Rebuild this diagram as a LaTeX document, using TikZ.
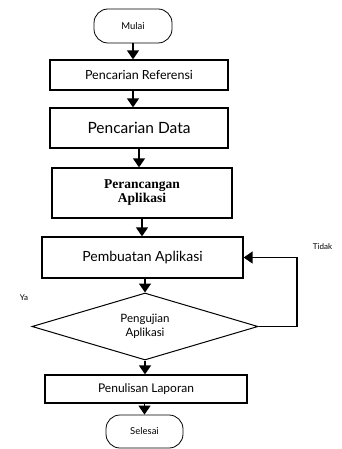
\documentclass[tikz,border=0pt]{standalone}
\usepackage{fontspec}
\setmainfont{Lato}
\newfontfamily\serifbold{Liberation Serif}
\usetikzlibrary{shapes.geometric,arrows.meta}
\begin{document}
\begin{tikzpicture}[x=1pt,y=-1pt,
  box/.style={draw,line width=1.3pt,minimum width=#1,inner sep=0pt,align=center},
  term/.style={draw,line width=0.8pt,rounded corners=14pt,inner sep=0pt,font=\fontsize{9.5}{11}\selectfont},
  arr/.style={line width=1.5pt,-{Triangle[length=9pt,width=12pt]}},
  lbl/.style={font=\fontsize{8}{9}\selectfont}]
\useasboundingbox (0,0) rectangle (341,449);
\node[term,minimum width=78pt,minimum height=34pt] (mulai) at (133,26) {Mulai};
\node[box=178pt,minimum height=30pt,font=\fontsize{12.5}{14}\selectfont] (ref) at (139,75) {Pencarian Referensi};
\node[box=178pt,minimum height=40pt,font=\fontsize{15.5}{18}\selectfont] (data) at (139,128) {Pencarian Data};
\node[box=180pt,minimum height=50pt,font=\serifbold\bfseries\fontsize{13.5}{14}\selectfont] (ranc) at (142,193) {Perancangan\\Aplikasi};
\node[box=201pt,minimum height=41pt,font=\fontsize{14}{16}\selectfont] (buat) at (142.5,257.5) {Pembuatan Aplikasi};
\node[draw,line width=1pt,diamond,aspect=3.35,minimum width=226pt,minimum height=67pt,inner sep=0pt,align=center,font=\fontsize{11.5}{14}\selectfont] (uji) at (145,326.5) {Pengujian\\Aplikasi};
\node[box=202pt,minimum height=28pt,font=\fontsize{12}{14}\selectfont] (tulis) at (146,389) {Penulisan Laporan};
\node[term,minimum width=77pt,minimum height=33pt] (selesai) at (144.5,431.5) {Selesai};
\node[lbl] (tidak) at (322.5,246.5) {Tidak};
\node[lbl] (ya) at (24,298) {Ya};
\coordinate (c1) at (297,326.5);
\coordinate (c2) at (297,257.5);
\draw[arr] (mulai.south) -- (mulai.south |- ref.north);
\draw[arr] (ref.south -| mulai.south) -- (mulai.south |- data.north);
\draw[arr] (data.south) -- (data.south |- ranc.north);
\draw[arr] (ranc.south) -- (ranc.south |- buat.north);
\draw[arr] (buat.south -| uji.north) -- (uji.north);
\draw[arr] (uji.south) -- (uji.south |- tulis.north);
\draw[arr] (tulis.south -| selesai.north) -- (selesai.north);
\draw[arr] (uji.east) -- (c1) -- (c2) -- (buat.east);
\end{tikzpicture}
\end{document}
